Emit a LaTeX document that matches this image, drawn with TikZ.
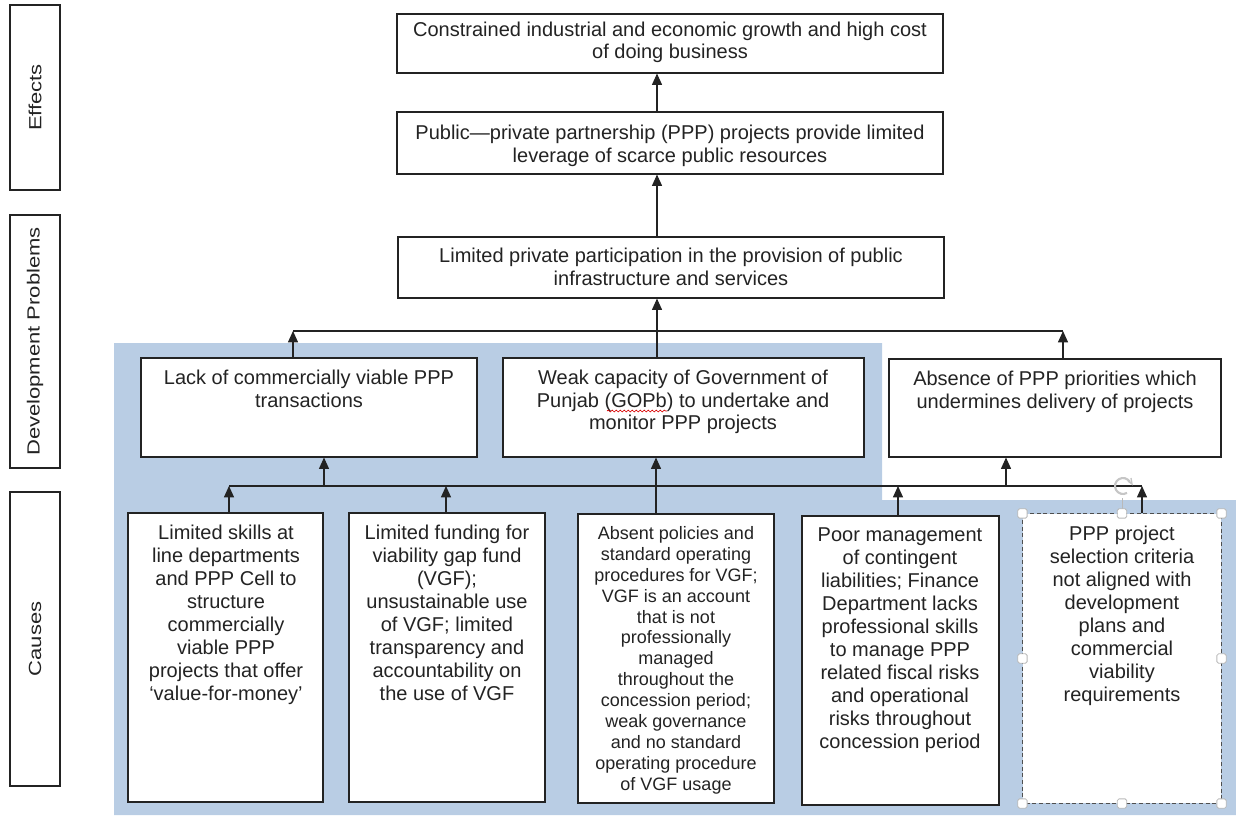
\documentclass[tikz,border=0pt]{standalone}
\usepackage{fontspec}
\setmainfont{Liberation Sans}
\usetikzlibrary{arrows.meta,fit,decorations.pathmorphing}
\definecolor{bgblue}{RGB}{185,205,228}
\definecolor{ink}{RGB}{35,35,35}
\tikzset{
 boxst/.style={draw=ink, line width=0.8pt, fill=white, inner sep=0pt},
 sidest/.style={draw=ink, line width=0.8pt, inner sep=0pt},
 txt/.style={align=center, inner sep=0pt, anchor=north, font=\fontsize{15}{17.25}\selectfont, text=ink},
 txts/.style={txt, font=\fontsize{13.5}{15.7}\selectfont},
 arr/.style={draw=ink, line width=0.8pt, -{Triangle[width=7.5pt,length=8.5pt]}},
 conn/.style={draw=ink, line width=0.8pt},
 handle/.style={draw=gray!55, fill=white, line width=0.6pt, minimum size=7pt, inner sep=0pt, rounded corners=1.2pt},
}
\begin{document}
\begin{tikzpicture}[x=0.75pt,y=-0.75pt]
\useasboundingbox (0,0) rectangle (1236,815);
% background
\fill[bgblue] (114,343) -- (882,343) -- (882,500) -- (1236,500) -- (1236,815) -- (114,815) -- cycle;

% side labels
\node[sidest, fit={(10,5) (60,190)}] (seff) {};
\node[sidest, fit={(10,215) (60,468)}] (sdev) {};
\node[sidest, fit={(10,492) (60,786)}] (scau) {};
\node[rotate=90, inner sep=0pt, text=ink] (leff) at (seff.center) {\scalebox{1}[0.8]{\fontsize{16.5}{18}\selectfont Effects}};
\node[rotate=90, inner sep=0pt, text=ink] (ldev) at (sdev.center) {\scalebox{1}[0.8]{\fontsize{16.5}{18}\selectfont Development Problems}};
\node[rotate=90, inner sep=0pt, text=ink] (lcau) at (scau.center) {\scalebox{1}[0.8]{\fontsize{16.5}{18}\selectfont Causes}};

% effect / problem boxes
\node[boxst, fit={(397,14) (943,73)}] (e1) {};
\node[txt, font=\fontsize{15}{16.5}\selectfont] (te1) at (670,22) {Constrained industrial and economic growth and high cost\\of doing business};
\node[boxst, fit={(397,112) (943,174)}] (e2) {};
\node[txt] (te2) at (670,125) {Public---private partnership (PPP) projects provide limited\\leverage of scarce public resources};
\node[boxst, fit={(398,237) (944,298)}] (p0) {};
\node[txt] (tp0) at (671,248) {Limited private participation in the provision of public\\infrastructure and services};

\node[boxst, fit={(141,358) (477,457)}] (pa) {};
\node[txt] (tpa) at (309,370) {Lack of commercially viable PPP\\transactions};
\node[boxst, fit={(503,358) (864,457)}] (pb) {};
\node[txt, font=\fontsize{15}{16.9}\selectfont] (tpb) at (683,370) {Weak capacity of Government of\\Punjab (GOPb) to undertake and\\monitor PPP projects};
\node[boxst, fit={(889,359) (1221,457)}] (pc) {};
\node[txt] (tpc) at (1055,371) {Absence of PPP priorities which\\undermines delivery of projects};

% cause boxes
\node[boxst, fit={(128,513) (323,802)}] (c1) {};
\node[txt] (tc1) at (226,525) {Limited skills at\\line departments\\and PPP Cell to\\structure\\commercially\\viable PPP\\projects that offer\\`value-for-money'};
\node[boxst, fit={(349,513) (545,802)}] (c2) {};
\node[txt] (tc2) at (447,525) {Limited funding for\\viability gap fund\\(VGF);\\unsustainable use\\of VGF; limited\\transparency and\\accountability on\\the use of VGF};
\node[boxst, fit={(578,514) (774,803)}] (c3) {};
\node[txts] (tc3) at (676,526) {Absent policies and\\standard operating\\procedures for VGF;\\VGF is an account\\that is not\\professionally\\managed\\throughout the\\concession period;\\weak governance\\and no standard\\operating procedure\\of VGF usage};
\node[boxst, fit={(802,516) (999,805)}] (c4) {};
\node[txt] (tc4) at (900,527) {Poor management\\of contingent\\liabilities; Finance\\Department lacks\\professional skills\\to manage PPP\\related fiscal risks\\and operational\\risks throughout\\concession period};
\node[boxst, draw=none, fit={(1023,514) (1221,803)}] (c5) {};
\draw[ink!80, line width=0.6pt, densely dashed] (c5.north west) rectangle (c5.south east);
\node[txt] (tc5) at (1122,526) {PPP project\\selection criteria\\not aligned with\\development\\plans and\\commercial\\viability\\requirements};

% red spelling squiggle under GOPb
\draw[red!85!black, line width=0.5pt, decorate, decoration={snake, amplitude=0.7pt, segment length=3pt}] (607,411) -- (667,411);

% junction coordinates
\coordinate (Va) at (657,0);
\coordinate (Vb) at (656,0);
\coordinate (Ua) at (293,331);
\coordinate (Ub) at (1063,331);
\coordinate (La) at (229,486);
\coordinate (Lb) at (1142,486);
\coordinate (J1) at (229,486);
\coordinate (J2) at (446,486);
\coordinate (J3) at (898,486);
\coordinate (J4) at (1142,486);
\coordinate (K1) at (324,486);
\coordinate (K2) at (1006,486);

% top connectors
\draw[arr] (e2.north -| Va) -- (e1.south -| Va);
\draw[arr] (p0.north -| Va) -- (e2.south -| Va);
\draw[arr] (pb.north -| Va) -- (p0.south -| Va);
\draw[conn] (Ua) -- (Ub);
\draw[arr] (pa.north -| Ua) -- (Ua);
\draw[arr] (pc.north -| Ub) -- (Ub);

% lower connectors
\draw[conn] (La) -- (Lb);
\draw[arr] (c1.north -| J1) -- (J1);
\draw[arr] (c2.north -| J2) -- (J2);
\draw[arr] (c4.north -| J3) -- (J3);
\draw[arr] (c5.north -| J4) -- (J4);
\draw[arr] (K1) -- (pa.south -| K1);
\draw[arr] (K2) -- (pc.south -| K2);
\draw[arr] (c3.north -| Vb) -- (pb.south -| Vb);

% selection handles of the last box
\draw[gray!55, line width=0.7pt] (c5.north) -- ++(0,-15);
\draw[gray!45, line width=1.6pt] (1123,486) ++(60:8) arc (60:330:8);
\draw[gray!45, line width=1pt] (1128,481) -- (1132,484) -- (1131,478);
\foreach \a [count=\i] in {north west,north,north east,west,east,south west,south,south east}
  \node[handle] (h\i) at (c5.\a) {};
\end{tikzpicture}
\end{document}
